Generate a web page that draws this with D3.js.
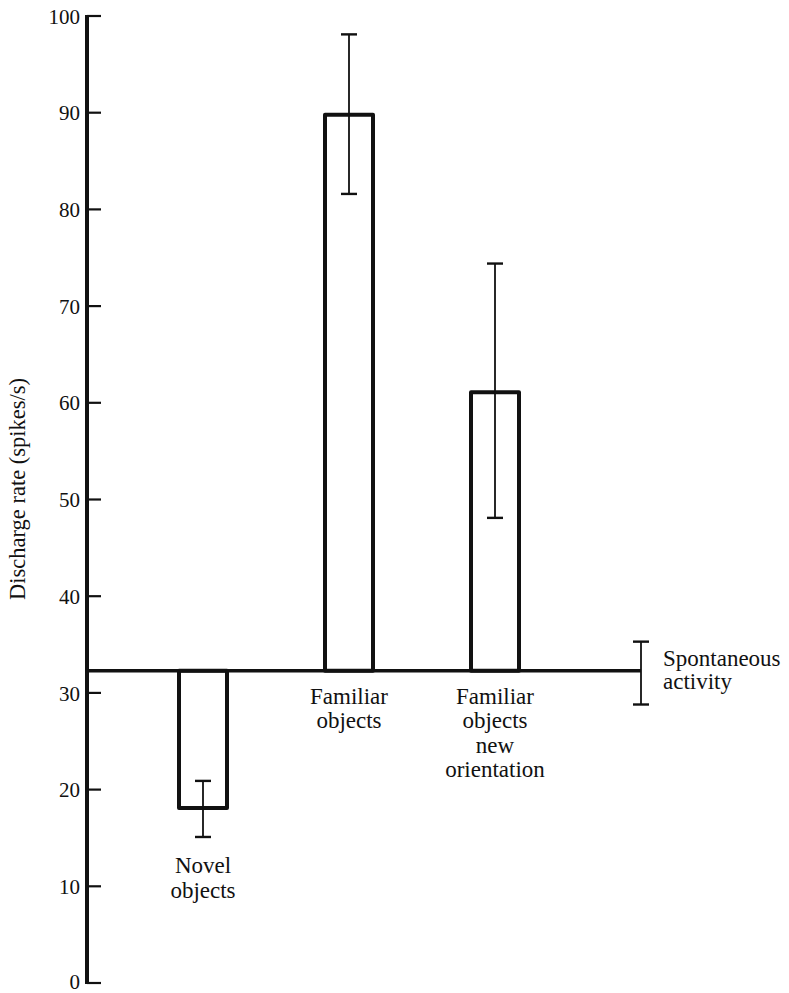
<!DOCTYPE html>
<html>
<head>
<meta charset="utf-8">
<script src="https://cdn.jsdelivr.net/npm/d3@7"></script>
<style>
  html, body { margin: 0; padding: 0; background: #fff; }
  svg { display: block; }
</style>
</head>
<body>
<svg id="chart" width="789" height="993"></svg>
<script>
// ---- data ----
const categories = ["Novel objects", "Familiar objects", "Familiar objects new orientation", "Spontaneous activity"];
const barCategories = ["Novel objects", "Familiar objects", "Familiar objects new orientation"];
const means = [18.1, 89.8, 61.1];
const errLow = [15.1, 81.6, 48.1];
const errHigh = [20.9, 98.1, 74.4];
const spontaneous = 32.3;
const spontLow = 28.8;
const spontHigh = 35.3;
const labelLines = [["Novel", "objects"], ["Familiar", "objects"], ["Familiar", "objects", "new", "orientation"]];
const spontLabel = ["Spontaneous", "activity"];
const yTicks = [0, 10, 20, 30, 40, 50, 60, 70, 80, 90, 100];
const yTitle = "Discharge rate (spikes/s)";

// ---- layout ----
const FONT = "Liberation Serif";
const svg = d3.select("#chart");
const axisX = 87;
const y = d3.scaleLinear().domain([0, 100]).range([983, 16]);
const x = d3.scalePoint().domain(categories).range([203, 641]);
const barW = 48;
const ink = "#111";

// y axis
const yAxis = d3.axisLeft(y).tickValues(yTicks).tickSize(0).tickPadding(7);
const gAxis = svg.append("g").attr("transform", `translate(${axisX},0)`).call(yAxis);
gAxis.attr("font-family", null).attr("font-size", null);
gAxis.select(".domain").remove();
gAxis.selectAll(".tick text")
  .style("font-family", FONT)
  .attr("font-size", 21)
  .attr("fill", ink)
  .attr("dy", (d) => d === 0 ? "0.25em" : "0.34em");
// tick marks to the right
svg.append("g").selectAll("line").data(yTicks).join("line")
  .attr("x1", axisX).attr("x2", axisX + 14)
  .attr("y1", d => y(d)).attr("y2", d => y(d))
  .attr("stroke", ink).attr("stroke-width", 2.2);
// axis line
svg.append("line")
  .attr("x1", axisX).attr("x2", axisX)
  .attr("y1", y(100) - 1).attr("y2", y(0) + 1)
  .attr("stroke", ink).attr("stroke-width", 4);

// y title
svg.append("text")
  .style("font-family", FONT)
  .attr("font-size", 22.5)
  .attr("transform", `translate(25, 600) rotate(-90)`)
  .attr("text-anchor", "start")
  .attr("fill", ink)
  .text(yTitle);

// bars (open rectangles from the spontaneous level)
const base = y(spontaneous);
svg.append("g").selectAll("rect").data(barCategories).join("rect")
  .attr("x", d => x(d) - barW / 2)
  .attr("width", barW)
  .attr("y", (d, i) => Math.min(base, y(means[i])))
  .attr("height", (d, i) => Math.abs(base - y(means[i])))
  .attr("fill", "#fff")
  .attr("stroke", ink)
  .attr("stroke-width", 4)
  .attr("stroke-linejoin", "round");

// baseline (spontaneous activity)
svg.append("line")
  .attr("x1", axisX).attr("x2", x("Spontaneous activity"))
  .attr("y1", base).attr("y2", base)
  .attr("stroke", ink).attr("stroke-width", 3.5);

// error bars
const capW = 16;
function errorBar(cx, lo, hi) {
  const g = svg.append("g").attr("stroke", ink).attr("stroke-width", 1.8);
  g.append("line").attr("x1", cx).attr("x2", cx).attr("y1", y(lo)).attr("y2", y(hi));
  g.append("line").attr("x1", cx - capW / 2).attr("x2", cx + capW / 2).attr("y1", y(lo)).attr("y2", y(lo)).attr("stroke-width", 2.4);
  g.append("line").attr("x1", cx - capW / 2).attr("x2", cx + capW / 2).attr("y1", y(hi)).attr("y2", y(hi)).attr("stroke-width", 2.4);
}
barCategories.forEach((c, i) => errorBar(x(c), errLow[i], errHigh[i]));
errorBar(x("Spontaneous activity"), spontLow, spontHigh);

// category labels
const lineH = 24.6;
barCategories.forEach((c, i) => {
  const top = means[i] < spontaneous ? y(errLow[i]) + 29 : base + 26;
  const t = svg.append("text")
    .style("font-family", FONT)
    .attr("font-size", 23)
    .attr("text-anchor", "middle")
    .attr("fill", ink);
  labelLines[i].forEach((ln, j) => {
    t.append("tspan").attr("x", x(c)).attr("y", top + j * lineH + 7).text(ln);
  });
});

// spontaneous label
const st = svg.append("text")
  .style("font-family", FONT)
  .attr("font-size", 23)
  .attr("fill", ink);
spontLabel.forEach((ln, j) => {
  st.append("tspan").attr("x", 663).attr("y", base - 12 + j * 23.5 + 7).text(ln);
});
</script>
</body>
</html>
